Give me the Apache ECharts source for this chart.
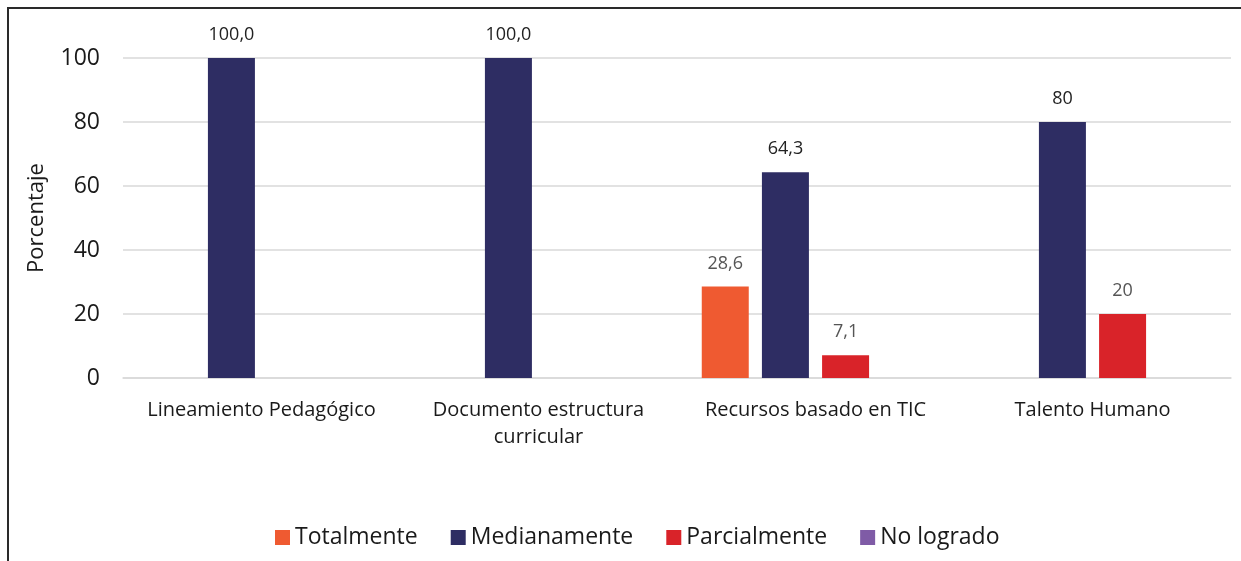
<!DOCTYPE html>
<html>
<head>
<meta charset="utf-8">
<script src="https://cdn.jsdelivr.net/npm/echarts@6/dist/echarts.min.js"></script>
<style>
    html, body { margin: 0; padding: 0; background: #fff; }
    .wrap { position: relative; width: 1241px; height: 561px; }
    #chart { width: 1241px; height: 561px; }
    .frame {
        position: absolute; left: 7px; top: 7px; right: 0; bottom: 0;
        border-top: 2px solid #2a2a2a; border-left: 2px solid #2a2a2a;
        pointer-events: none;
    }
</style>
</head>
<body>
<div class="wrap">
    <div id="chart"></div>
    <div class="frame"></div>
</div>
<script>
// categorias del eje x
const categorias = [
    "Lineamiento Pedagógico",
    "Documento estructura\ncurricular",
    "Recursos basado en TIC",
    "Talento Humano",
];
// valores tal como aparecen en las etiquetas ("" = sin barra)
const totalmente = ["", "", "28,6", ""];
const medianamente = ["100,0", "100,0", "64,3", "80"];
const parcialmente = ["", "", "7,1", "20"];
const noLogrado = ["", "", "", ""];
const ticksY = [0, 20, 40, 60, 80, 100];

const font = "Open Sans";

// convierte "64,3" -> 64.3, guarda el texto original para la etiqueta
function toData(list) {
    return list.map((s) => (s === "" ? null : { value: parseFloat(s.replace(",", ".")), txt: s }));
}

function serie(name, list, color, labelColor) {
    return {
        name: name,
        type: "bar",
        barWidth: 47,
        barGap: "28%",
        data: toData(list),
        itemStyle: { color: color },
        label: {
            show: true,
            position: "top",
            distance: 14,
            fontFamily: font,
            fontSize: 18,
            color: labelColor,
            formatter: (p) => p.data.txt,
        },
    };
}

const chart = echarts.init(document.getElementById("chart"));
chart.setOption({
    animation: false,
    textStyle: { fontFamily: font },
    grid: { left: 123, right: 10, top: 58, bottom: 183 },
    legend: {
        bottom: 7,
        left: 270,
        itemWidth: 15,
        itemHeight: 15,
        itemGap: 33,
        icon: "rect",
        textStyle: { fontFamily: font, fontSize: 23, color: "#1a1a1a" },
        data: ["Totalmente", "Medianamente", "Parcialmente", "No logrado"],
    },
    xAxis: {
        type: "category",
        data: categorias,
        axisTick: { show: false },
        axisLine: { lineStyle: { color: "#d9d9d9", width: 1.5 } },
        axisLabel: {
            fontFamily: font,
            fontSize: 20,
            color: "#1a1a1a",
            lineHeight: 27,
            margin: 19,
            interval: 0,
        },
    },
    yAxis: {
        type: "value",
        min: ticksY[0],
        max: ticksY[ticksY.length - 1],
        interval: 20,
        name: "Porcentaje",
        nameLocation: "middle",
        nameGap: 75,
        nameTextStyle: { fontFamily: font, fontSize: 22, color: "#1a1a1a" },
        axisLine: { show: false },
        axisTick: { show: false },
        axisLabel: { fontFamily: font, fontSize: 23, color: "#1a1a1a", margin: 23 },
        splitLine: { lineStyle: { color: "#d9d9d9", width: 1.5 } },
    },
    series: [
        serie("Totalmente", totalmente, "#ef5a31", "#555"),
        serie("Medianamente", medianamente, "#2e2d63", "#222"),
        serie("Parcialmente", parcialmente, "#d92329", "#555"),
        serie("No logrado", noLogrado, "#7f5ba6", "#555"),
    ],
});
</script>
</body>
</html>
